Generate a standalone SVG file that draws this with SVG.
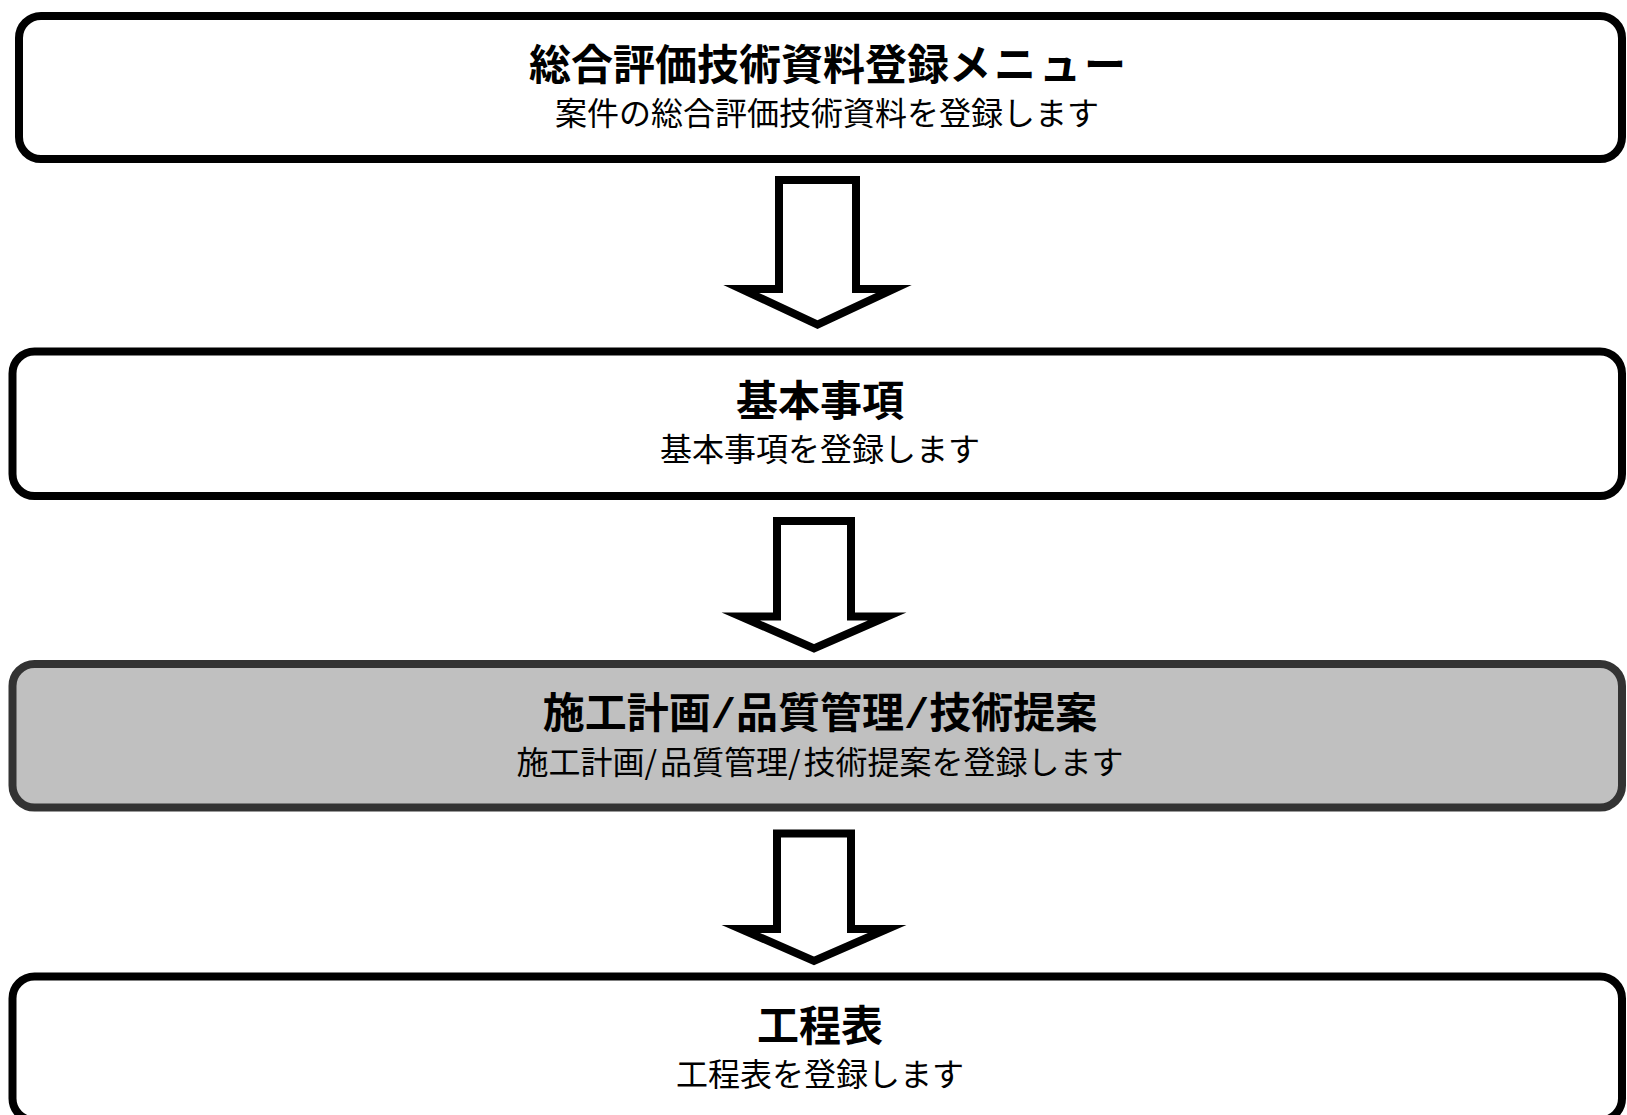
<svg xmlns="http://www.w3.org/2000/svg" width="1627" height="1115" viewBox="0 0 1627 1115">
<style>
.box{fill:#ffffff;stroke:#000000;stroke-width:8}
.box.sel{fill:#c0c0c0;stroke:#333333}
.ttl{font-family:"Noto Sans CJK JP","Noto Sans",sans-serif;font-size:42px;font-weight:bold;fill:#000;text-anchor:middle}
.sub{font-family:"Noto Sans CJK JP","Noto Sans",sans-serif;font-size:32px;fill:#000;text-anchor:middle}
.sl{font-family:"Liberation Mono","Noto Sans CJK JP",monospace}
.sls{font-family:"Noto Sans CJK JP",sans-serif;letter-spacing:3px}
.kana{letter-spacing:3px}
.arr{fill:#ffffff;stroke:#000000;stroke-width:8;stroke-miterlimit:10;stroke-linejoin:miter}
</style>
<rect width="1627" height="1115" fill="#ffffff"/>
<g id="connectors">
<polygon class="arr" points="779,180 856,180 856,289 893.7,289 817.5,324.6 741.3,289 779,289"/>
<polygon class="arr" points="777,521 851,521 851,616.5 887.2,616.5 814,648.3 740.8,616.5 777,616.5"/>
<polygon class="arr" points="777,833.5 851,833.5 851,929 887.2,929 814,960.8 740.8,929 777,929"/>
</g>
<g id="node-menu">
<rect class="box" x="19" y="16" width="1603" height="143" rx="22" ry="22"/>
<text class="ttl" x="829" y="80">総合評価技術資料登録<tspan class="kana">メニュー</tspan></text>
<text class="sub" x="827" y="125">案件の総合評価技術資料を登録します</text>
</g>
<g id="node-kihon">
<rect class="box" x="12.5" y="351.5" width="1609.5" height="144.5" rx="22" ry="22"/>
<text class="ttl" x="820" y="415.5">基本事項</text>
<text class="sub" x="820" y="461">基本事項を登録します</text>
</g>
<g id="node-seko">
<rect class="box sel" x="12.5" y="664" width="1609.5" height="143.5" rx="22" ry="22"/>
<text class="ttl" x="820" y="728">施工計画<tspan class="sl">/</tspan>品質管理<tspan class="sl">/</tspan>技術提案</text>
<text class="sub" x="820" y="773.5">施工計画<tspan class="sls">/</tspan>品質管理<tspan class="sls">/</tspan>技術提案を登録します</text>
</g>
<g id="node-koteihyo">
<rect class="box" x="12.5" y="976.5" width="1609.5" height="144" rx="22" ry="22"/>
<text class="ttl" x="820" y="1040.5">工程表</text>
<text class="sub" x="820" y="1086">工程表を登録します</text>
</g>
</svg>
